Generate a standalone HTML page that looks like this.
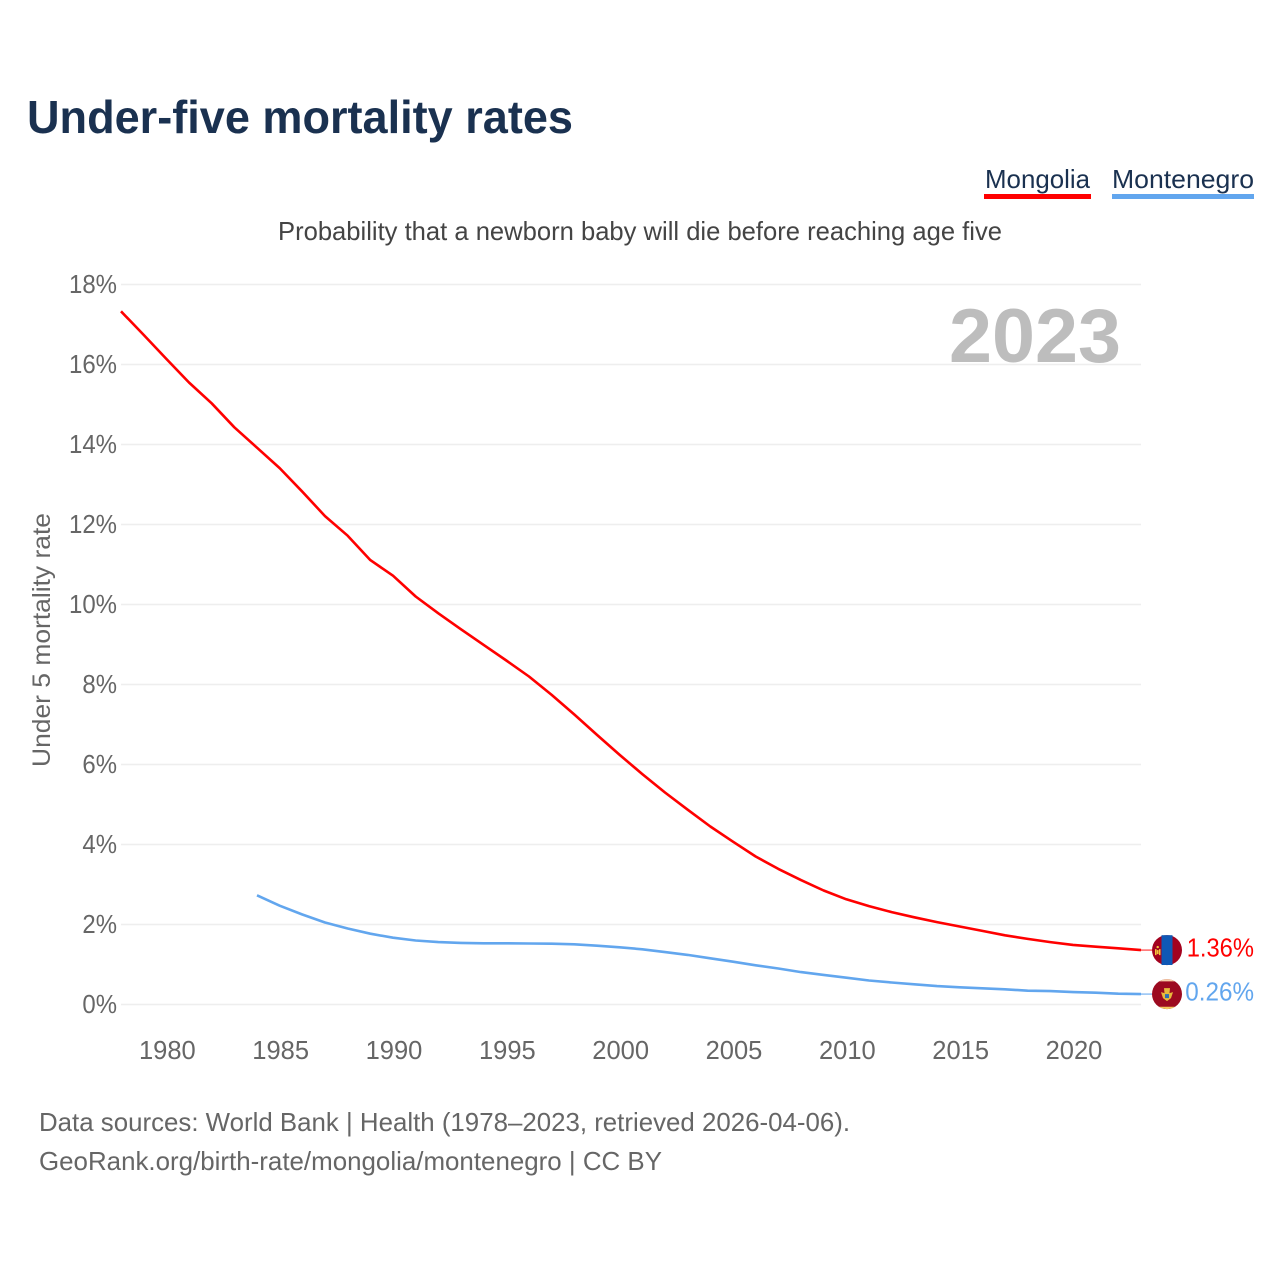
<!DOCTYPE html>
<html lang="en">
<head>
<meta charset="utf-8">
<title>Under-five mortality rates</title>
<style>
  html, body { margin: 0; padding: 0; background: #fff; }
  svg { display: block; font-family: "Liberation Sans", sans-serif; }
</style>
</head>
<body>
<svg id="chart" xmlns="http://www.w3.org/2000/svg" width="1280" height="1280" viewBox="0 0 1280 1280">
  <rect x="0" y="0" width="1280" height="1280" fill="#ffffff"/>
  <text x="27" y="133" font-size="46" font-weight="700" fill="#1a3150" textLength="546" lengthAdjust="spacingAndGlyphs">Under-five mortality rates</text>

  <g>
    <text x="985" y="188" font-size="26" fill="#1a3150" textLength="105" lengthAdjust="spacingAndGlyphs">Mongolia</text>
    <rect x="984" y="194" width="107" height="5" fill="#ff0000"/>
  </g>
  <g>
    <text x="1112" y="188" font-size="26" fill="#1a3150" textLength="142" lengthAdjust="spacingAndGlyphs">Montenegro</text>
    <rect x="1112" y="194" width="142" height="5" fill="#62a6ee"/>
  </g>

  <text x="278" y="240" font-size="26" fill="#444444" textLength="724" lengthAdjust="spacingAndGlyphs">Probability that a newborn baby will die before reaching age five</text>

  <text transform="translate(50,767) rotate(-90)" x="0" y="0" font-size="25" fill="#666666" textLength="254" lengthAdjust="spacingAndGlyphs">Under 5 mortality rate</text>

  <g id="grid"></g>
  <g id="yticks"></g>
  <g id="xticks"></g>

  <text x="949" y="362" font-size="76" font-weight="700" fill="#bdbdbd" textLength="172" lengthAdjust="spacingAndGlyphs">2023</text>

  <g id="series"></g>
  <g id="ends"></g>

  <text x="39" y="1131" font-size="26" fill="#666666" textLength="811" lengthAdjust="spacingAndGlyphs">Data sources: World Bank | Health (1978–2023, retrieved 2026-04-06).</text>
  <text x="39" y="1170" font-size="26" fill="#666666" textLength="623" lengthAdjust="spacingAndGlyphs">GeoRank.org/birth-rate/mongolia/montenegro | CC BY</text>
</svg>

<script>
var yTickValues = [0, 2, 4, 6, 8, 10, 12, 14, 16, 18];
var xTickYears = [1980, 1985, 1990, 1995, 2000, 2005, 2010, 2015, 2020];

var mongoliaStartYear = 1978;
var mongoliaValues = [
  17.33, 16.74, 16.14, 15.55, 15.03, 14.43, 13.92, 13.41, 12.82, 12.21,
  11.72, 11.11, 10.72, 10.20, 9.78, 9.38, 8.99, 8.60, 8.20, 7.74,
  7.25, 6.74, 6.24, 5.76, 5.30, 4.87, 4.45, 4.07, 3.70, 3.39,
  3.11, 2.85, 2.63, 2.46, 2.31, 2.18, 2.06, 1.95, 1.84, 1.73,
  1.64, 1.56, 1.49, 1.445, 1.405, 1.36
];

var montenegroStartYear = 1984;
var montenegroValues = [
  2.73, 2.47, 2.25, 2.05, 1.90, 1.77, 1.67, 1.60, 1.56, 1.54,
  1.53, 1.53, 1.525, 1.52, 1.505, 1.47, 1.43, 1.38, 1.31, 1.24,
  1.155, 1.07, 0.98, 0.90, 0.81, 0.74, 0.67, 0.60, 0.55, 0.505,
  0.46, 0.43, 0.405, 0.38, 0.345, 0.335, 0.31, 0.295, 0.27, 0.26
];

var NS = 'http://www.w3.org/2000/svg';
function make(tag, parent, attrs, content) {
  var el = document.createElementNS(NS, tag);
  for (var k in attrs) { el.setAttribute(k, attrs[k]); }
  if (content !== undefined) { el.textContent = content; }
  parent.appendChild(el);
  return el;
}
function xScale(year) { return 121 + (year - 1978) * (1020 / 45); }
function yScale(value) { return 1004.5 - value * 40; }
function linePath(startYear, values) {
  return values.map(function (v, i) {
    return (i ? 'L' : 'M') + xScale(startYear + i).toFixed(2) + ' ' + yScale(v).toFixed(2);
  }).join(' ');
}
function squeeze(el, factor) {
  var w = el.getComputedTextLength();
  el.setAttribute('textLength', (w * factor).toFixed(1));
  el.setAttribute('lengthAdjust', 'spacingAndGlyphs');
}

var grid = document.getElementById('grid');
var yticks = document.getElementById('yticks');
var xticks = document.getElementById('xticks');
var series = document.getElementById('series');
var ends = document.getElementById('ends');

yTickValues.forEach(function (v) {
  var y = yScale(v);
  var line = make('line', grid, { x1: 121, x2: 1141, y1: y, y2: y, stroke: '#eeeeee', 'stroke-width': 1.5 });
  
  
  var t = make('text', yticks, { x: 117, y: y + 8.5, 'font-size': 25.5, fill: '#666666', 'text-anchor': 'end' }, v + '%');
  
  
  squeeze(t, 0.94);
});

xTickYears.forEach(function (year) {
  var t = make('text', xticks, { x: xScale(year) + 1, y: 1059, 'font-size': 25.5, fill: '#666666', 'text-anchor': 'middle' }, String(year));
  
  
});

var redColor = '#ff0000';
var blueColor = '#62a6ee';

var redLine = make('path', series, { d: linePath(mongoliaStartYear, mongoliaValues), fill: 'none', stroke: redColor, 'stroke-width': 2.6, 'stroke-linejoin': 'round' });



var blueLine = make('path', series, { d: linePath(montenegroStartYear, montenegroValues), fill: 'none', stroke: blueColor, 'stroke-width': 2.6, 'stroke-linejoin': 'round' });



/* Mongolia end marker */
var redEnd = mongoliaValues[mongoliaValues.length - 1];
var redY = yScale(redEnd);
var redConn = make('line', ends, { x1: 1141, x2: 1152, y1: redY, y2: redY, stroke: redColor, 'stroke-width': 1.5, opacity: 0.6 });



var flagA = make('g', ends, { transform: 'translate(1167,' + redY + ')' });


make('circle', flagA, { cx: 0, cy: 0, r: 15, fill: '#a3021f' });
make('rect', flagA, { x: -5.5, y: -14.9, width: 11, height: 29.8, fill: '#0f58b5' });
make('rect', flagA, { x: -12, y: -1, width: 1.5, height: 6, fill: '#f2c53d' });
make('rect', flagA, { x: -8, y: -1, width: 1.5, height: 6, fill: '#f2c53d' });
make('rect', flagA, { x: -10.2, y: 0, width: 1.8, height: 4, fill: '#f2c53d' });
make('circle', flagA, { cx: -9.3, cy: -3, r: 1.2, fill: '#f2c53d' });

var redLabel = make('text', ends, { x: 1254, y: redY + 6.5, 'font-size': 25.5, fill: redColor, 'text-anchor': 'end' }, redEnd.toFixed(2) + '%');


squeeze(redLabel, 0.93);

/* Montenegro end marker */
var blueEnd = montenegroValues[montenegroValues.length - 1];
var blueY = yScale(blueEnd);
var blueConn = make('line', ends, { x1: 1141, x2: 1152, y1: blueY, y2: blueY, stroke: blueColor, 'stroke-width': 1.5, opacity: 0.7 });



var flagB = make('g', ends, { transform: 'translate(1167,' + blueY + ')' });


make('circle', flagB, { cx: 0, cy: 0, r: 15, fill: '#9c0a20' });
make('path', flagB, { d: 'M-8 -12.7 A15 15 0 0 1 8 -12.7 Z', fill: '#f7cfa8' });
make('path', flagB, { d: 'M-8 12.7 A15 15 0 0 0 8 12.7 Z', fill: '#f2c75c' });
make('path', flagB, { d: 'M-6 -2 L-2.5 -1 L-3 -6 L3 -6 L2.5 -1 L6 -2 L4 4 L0 7 L-4 4 Z', fill: '#e8b93c' });
make('rect', flagB, { x: -2, y: 0, width: 4, height: 4, fill: '#2f6fb0' });

var blueLabel = make('text', ends, { x: 1254, y: blueY + 6.5, 'font-size': 25.5, fill: blueColor, 'text-anchor': 'end' }, blueEnd.toFixed(2) + '%');


squeeze(blueLabel, 0.95);
</script>
</body>
</html>
